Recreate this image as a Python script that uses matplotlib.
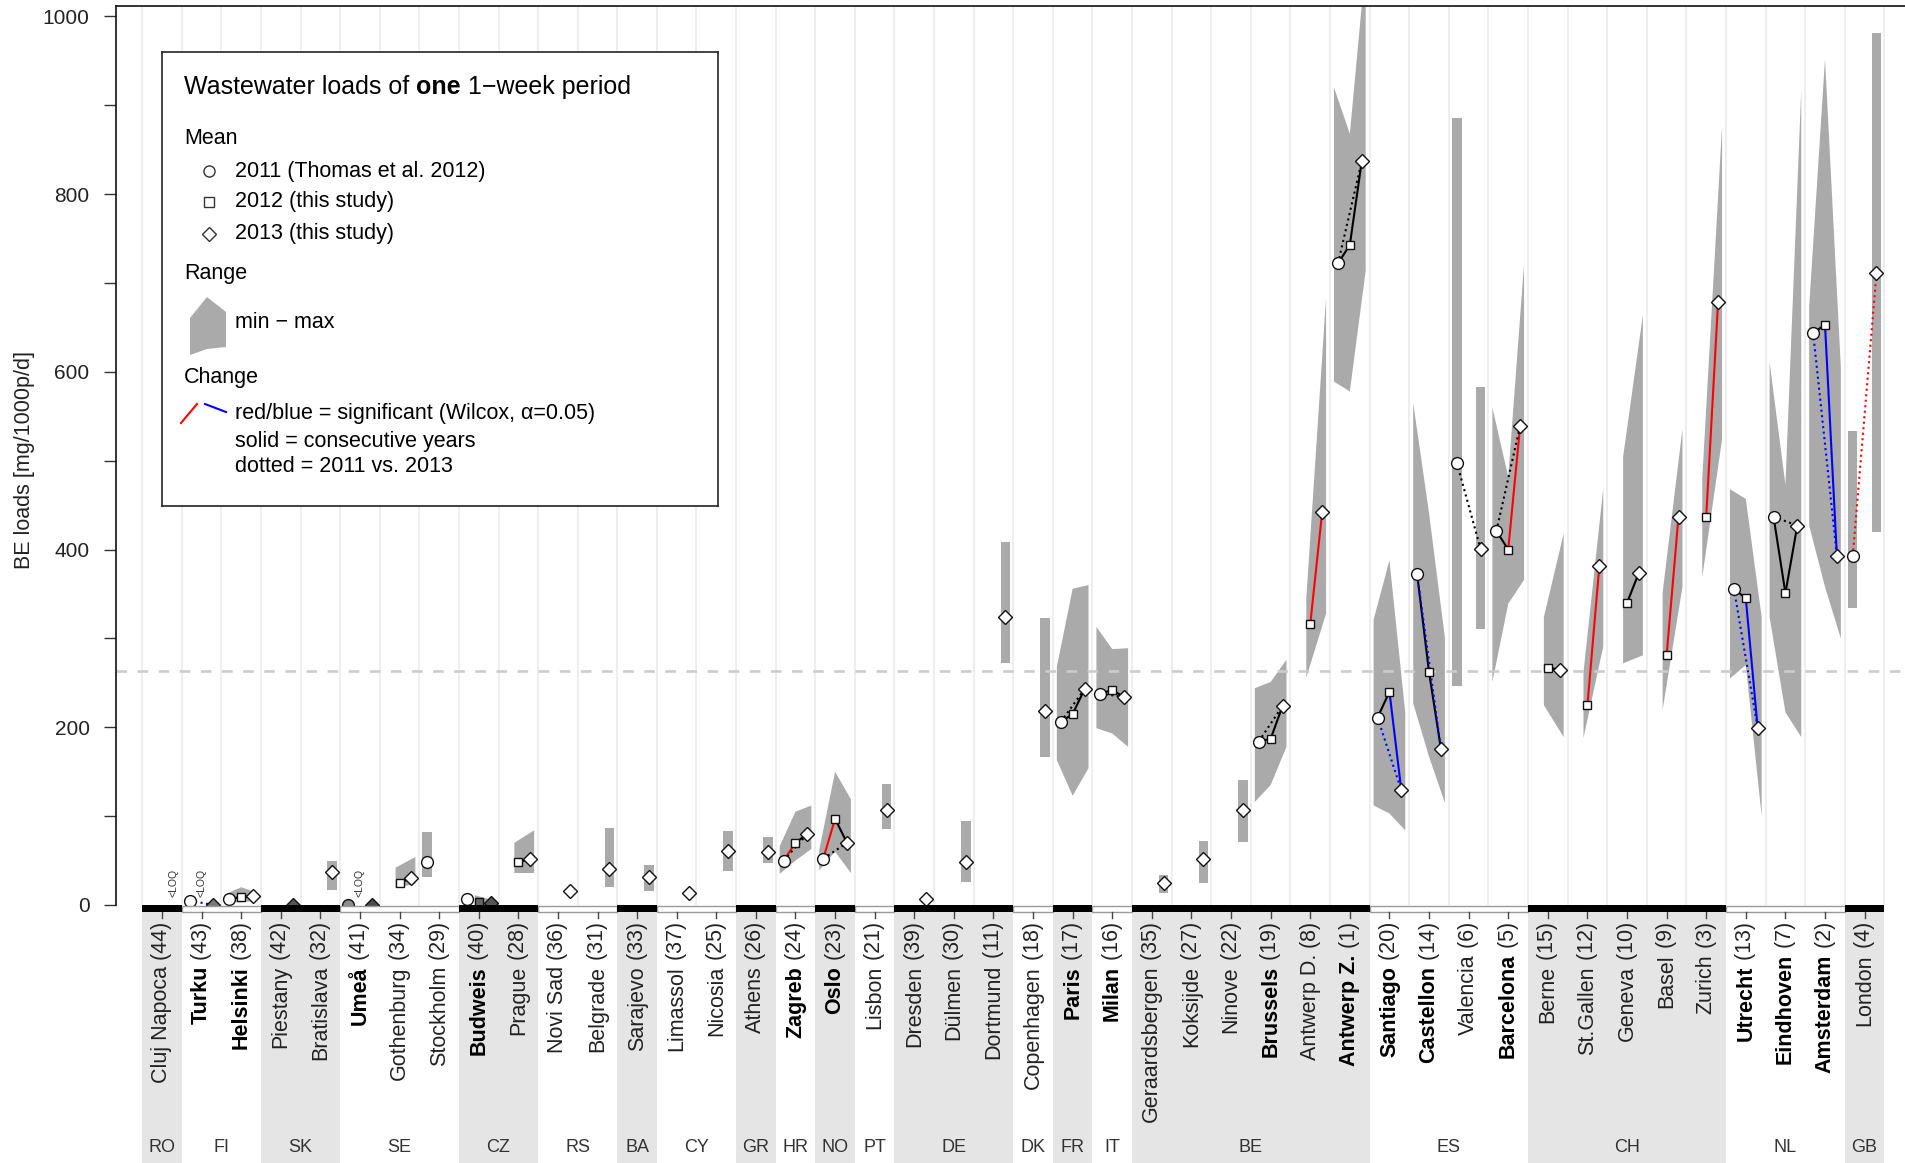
import numpy as np
import matplotlib
matplotlib.use('Agg')
import matplotlib.pyplot as plt
from matplotlib.patches import Rectangle, Polygon

plt.rcParams['font.family'] = ['Liberation Sans', 'DejaVu Sans']

nan = np.nan

# ---- data ----
cities = ['Cluj Napoca', 'Turku', 'Helsinki', 'Piestany', 'Bratislava', 'Umeå', 'Gothenburg',
          'Stockholm', 'Budweis', 'Prague', 'Novi Sad', 'Belgrade', 'Sarajevo', 'Limassol',
          'Nicosia', 'Athens', 'Zagreb', 'Oslo', 'Lisbon', 'Dresden', 'Dülmen', 'Dortmund',
          'Copenhagen', 'Paris', 'Milan', 'Geraardsbergen', 'Koksijde', 'Ninove', 'Brussels',
          'Antwerp D.', 'Antwerp Z.', 'Santiago', 'Castellon', 'Valencia', 'Barcelona', 'Berne',
          'St.Gallen', 'Geneva', 'Basel', 'Zurich', 'Utrecht', 'Eindhoven', 'Amsterdam', 'London']
ranks = [44, 43, 38, 42, 32, 41, 34, 29, 40, 28, 36, 31, 33, 37, 25, 26, 24, 23, 21, 39, 30, 11,
         18, 17, 16, 35, 27, 22, 19, 8, 1, 20, 14, 6, 5, 15, 12, 10, 9, 3, 13, 7, 2, 4]
countries = ['RO', 'FI', 'FI', 'SK', 'SK', 'SE', 'SE', 'SE', 'CZ', 'CZ', 'RS', 'RS', 'BA', 'CY',
             'CY', 'GR', 'HR', 'NO', 'PT', 'DE', 'DE', 'DE', 'DK', 'FR', 'IT', 'BE', 'BE', 'BE',
             'BE', 'BE', 'BE', 'ES', 'ES', 'ES', 'ES', 'CH', 'CH', 'CH', 'CH', 'CH', 'NL', 'NL',
             'NL', 'GB']
bold_cities = ['Turku', 'Helsinki', 'Umeå', 'Budweis', 'Zagreb', 'Oslo', 'Paris', 'Milan',
               'Brussels', 'Antwerp Z.', 'Santiago', 'Castellon', 'Barcelona', 'Utrecht',
               'Eindhoven', 'Amsterdam']

mean_2011 = [nan, 5, 7, nan, nan, 0, nan, 48, 7, nan, nan, nan, nan, nan, nan, nan, 50, 52, nan,
             nan, nan, nan, nan, 206, 238, nan, nan, nan, 184, nan, 722, 211, 372, 498, 421, nan,
             nan, nan, nan, nan, 356, 437, 644, 393]
mean_2012 = [nan, nan, 9, nan, nan, nan, 25, nan, 3, 48, nan, nan, nan, nan, nan, nan, 70, 97, nan,
             nan, nan, nan, nan, 215, 242, nan, nan, nan, 187, 316, 743, 240, 262, nan, 400, 267,
             225, 340, 281, 437, 345, 351, 653, nan]
mean_2013 = [nan, 0, 10, 0, 37, 0, 30, nan, 2, 52, 16, 41, 31, 14, 61, 60, 80, 70, 107, 7, 48,
             324, 218, 243, 234, 25, 52, 107, 224, 442, 837, 129, 176, 401, 539, 265, 381, 374,
             437, 679, 199, 427, 393, 711]

min_2011 = [nan, nan, 3, nan, nan, nan, nan, 31, nan, nan, nan, nan, nan, nan, nan, nan, 35, 39,
            nan, nan, nan, nan, nan, 163, 199, nan, nan, nan, 116, nan, 589, 112, 227, 247, 251,
            nan, nan, nan, nan, nan, 255, 324, 427, 334]
max_2011 = [nan, nan, 12, nan, nan, nan, nan, 82, nan, nan, nan, nan, nan, nan, nan, nan, 66, 62,
            nan, nan, nan, nan, nan, 268, 313, nan, nan, nan, 244, nan, 920, 321, 565, 886, 560,
            nan, nan, nan, nan, nan, 468, 611, 674, 534]
min_2012 = [nan, nan, 3, nan, nan, nan, 19, nan, 0, 36, nan, nan, nan, nan, nan, nan, 50, 60, nan,
            nan, nan, nan, nan, 123, 193, nan, nan, nan, 135, 256, 578, 103, 167, nan, 339, 225,
            188, 272, 220, 369, 270, 217, 358, nan]
max_2012 = [nan, nan, 20, nan, nan, nan, 42, nan, 11, 70, nan, nan, nan, nan, nan, nan, 105, 150,
            nan, nan, nan, nan, nan, 356, 288, nan, nan, nan, 251, 345, 868, 388, 441, nan, 482,
            324, 262, 504, 352, 480, 457, 473, 952, nan]
min_2013 = [nan, nan, 5, nan, 17, nan, 24, nan, 0, 36, nan, 20, 16, nan, 38, 47, 63, 36, 85, nan,
            26, 272, 167, 154, 178, 14, 25, 71, 178, 328, 714, 84, 115, 311, 366, 189, 291, 281,
            358, 524, 100, 189, 300, 420]
max_2013 = [nan, nan, 14, nan, 50, nan, 54, nan, 5, 84, nan, 87, 45, nan, 83, 76, 112, 119, 136,
            nan, 94, 408, 323, 360, 289, 34, 72, 141, 276, 684, 1060, 216, 301, 583, 722, 418, 469,
            664, 536, 877, 324, 918, 605, 981]

# change lines (colour = significance)
solid_1112 = {'Zagreb': 'red', 'Oslo': 'red', 'Helsinki': 'k', 'Paris': 'k', 'Milan': 'k',
              'Brussels': 'k', 'Antwerp Z.': 'k', 'Santiago': 'k', 'Castellon': 'k',
              'Barcelona': 'k', 'Utrecht': 'k', 'Eindhoven': 'k', 'Amsterdam': 'k'}
solid_1213 = {'Helsinki': 'k', 'Gothenburg': 'k', 'Prague': 'k', 'Zagreb': 'k', 'Oslo': 'k',
              'Paris': 'k', 'Milan': 'k', 'Brussels': 'k', 'Antwerp D.': 'red', 'Antwerp Z.': 'k',
              'Santiago': 'blue', 'Castellon': 'k', 'Barcelona': 'red', 'Berne': 'k',
              'St.Gallen': 'red', 'Geneva': 'k', 'Basel': 'red', 'Zurich': 'red',
              'Utrecht': 'blue', 'Eindhoven': 'k', 'Amsterdam': 'blue'}
dotted_1113 = {'Turku': 'blue', 'Helsinki': 'k', 'Zagreb': 'k', 'Oslo': 'k', 'Paris': 'k',
               'Milan': 'k', 'Brussels': 'k', 'Antwerp Z.': 'k', 'Santiago': 'blue',
               'Castellon': 'blue', 'Valencia': 'k', 'Barcelona': 'k', 'Utrecht': 'blue',
               'Eindhoven': 'k', 'Amsterdam': 'blue', 'London': 'red'}

# means affected by <LOQ samples (grey filled)
dark_fill = {('Turku', 2013): '#7a7a7a', ('Piestany', 2013): '#555555', ('Umeå', 2011): '#8c8c8c',
             ('Umeå', 2013): '#4d4d4d', ('Budweis', 2012): '#666666', ('Budweis', 2013): '#555555'}
loq_labels = [('Cluj Napoca', 2013), ('Turku', 2012), ('Umeå', 2012)]
reference_level = 263

years = [2011, 2012, 2013]
means = {2011: mean_2011, 2012: mean_2012, 2013: mean_2013}
mins = {2011: min_2011, 2012: min_2012, 2013: min_2013}
maxs = {2011: max_2011, 2012: max_2012, 2013: max_2013}
offset = {2011: -0.3, 2012: 0.0, 2013: 0.3}
markers = {2011: ('o', 8.5), 2012: ('s', 6.3), 2013: ('D', 6.8)}

W, H = 1905, 1163
fig = plt.figure(figsize=(W / 100, H / 100), dpi=100)
ax = fig.add_axes([116 / W, 1 - 905 / H, 1 - 116 / W, (905 - 6) / H])
ax.set_xlim(-1.16, 44.02)
ax.set_ylim(0, 1011.8)

n = len(cities)
# vertical separators
for b in np.arange(-0.5, n, 1.0):
    ax.axvline(b, color='#ebebeb', lw=1.2, zorder=0)

# range polygons / bars
for i in range(n):
    have = [y for y in years if not np.isnan(mins[y][i])]
    runs = []
    for y in have:
        if runs and y - runs[-1][-1] == 1:
            runs[-1].append(y)
        else:
            runs.append([y])
    for run in runs:
        if len(run) == 1:
            y = run[0]
            x0 = i + offset[y]
            ax.add_patch(Rectangle((x0 - 0.12, mins[y][i]), 0.24, maxs[y][i] - mins[y][i],
                                   facecolor='#aaaaaa', edgecolor='none', zorder=1))
        else:
            xs = [i + offset[y] for y in run]
            xs[0] -= 0.1
            xs[-1] += 0.1
            top = [(x, maxs[y][i]) for x, y in zip(xs, run)]
            bot = [(x, mins[y][i]) for x, y in zip(xs, run)][::-1]
            ax.add_patch(Polygon(top + bot, closed=True, facecolor='#aaaaaa',
                                 edgecolor='none', zorder=1))

ax.axhline(reference_level, color='#cccccc', lw=1.9, dashes=(4, 4), zorder=1.5)

# change lines
for i, c in enumerate(cities):
    for table, ya, yb, ls in ((solid_1112, 2011, 2012, '-'), (solid_1213, 2012, 2013, '-'),
                              (dotted_1113, 2011, 2013, ':')):
        if c in table:
            ax.plot([i + offset[ya], i + offset[yb]], [means[ya][i], means[yb][i]],
                    color=table[c], lw=1.5, ls=ls, zorder=3)

# means
for y in years:
    mk, ms = markers[y]
    for i, c in enumerate(cities):
        v = means[y][i]
        if np.isnan(v):
            continue
        fc = dark_fill.get((c, y), 'white')
        ax.plot(i + offset[y], v, marker=mk, ms=ms, mfc=fc, mec='#111111', mew=1.0,
                ls='none', zorder=4)

for c, y in loq_labels:
    i = cities.index(c)
    ax.text(i + offset[y], 9, '<LOQ', rotation=90, ha='center', va='bottom', fontsize=7.5,
            color='#333333', zorder=5)

ax.set_xticks([])
ax.set_yticks(np.arange(0, 1001, 100))
ax.set_yticklabels([str(v) if v % 200 == 0 else '' for v in range(0, 1001, 100)])
ax.tick_params(axis='y', length=9, width=1, color='#333333', labelsize=15, pad=10,
               labelcolor='#222222')
for s in ('right', 'bottom'):
    ax.spines[s].set_visible(False)
for s in ('left', 'top'):
    ax.spines[s].set_linewidth(1.2)
    ax.spines[s].set_color('#111111')
fig.text(25 / W, 1 - 460 / H, 'BE loads [mg/1000p/d]', rotation=90, ha='center', va='center',
         fontsize=15.5, color='#222222')

# ---- city / country band below the plot ----
axl = fig.add_axes([116 / W, 0, 1 - 116 / W, 1 - 905 / H])
axl.set_xlim(ax.get_xlim())
axl.set_ylim(258, 0)
axl.axis('off')

groups = []
for i, cc in enumerate(countries):
    if groups and groups[-1][0] == cc:
        groups[-1][2] = i
    else:
        groups.append([cc, i, i])
for k, (cc, a, b) in enumerate(groups):
    shaded = k % 2 == 0
    if shaded:
        axl.add_patch(Rectangle((a - 0.5, 7), b - a + 1, 252, facecolor='#e5e5e5',
                                edgecolor='none', zorder=0))
        axl.add_patch(Rectangle((a - 0.5, 0), b - a + 1, 7, facecolor='black',
                                edgecolor='none', zorder=2))
    else:
        axl.add_patch(Rectangle((a - 0.5, 0.5), b - a + 1, 6.5, facecolor='white',
                                edgecolor='#999999', lw=1, zorder=1))
    axl.text((a + b) / 2, 243, cc, ha='center', va='center', fontsize=13, color='#333333')

for i, c in enumerate(cities):
    axl.plot([i, i], [7, 13], color='#444444', lw=1, zorder=3)
    is_bold = c in bold_cities
    rank_t = axl.text(i, 17, f' ({ranks[i]})', rotation=90, ha='center', va='top',
                      fontsize=15.5, color='#222222')
    axl.annotate(c, xy=(0.5, 0), xycoords=rank_t, rotation=90, ha='center', va='top',
                 fontsize=15.5, color='black' if is_bold else '#222222',
                 fontweight='bold' if is_bold else 'normal')

# ---- legend box (pixel coordinates) ----
lg = fig.add_axes([162 / W, 1 - 506 / H, (718 - 162) / W, (506 - 52) / H])
lg.set_xlim(162, 718)
lg.set_ylim(506, 52)
lg.set_xticks([])
lg.set_yticks([])
lg.set_facecolor('white')
for s in lg.spines.values():
    s.set_color('#222222')
    s.set_linewidth(1.2)

t1 = lg.text(184, 87, 'Wastewater loads of ', fontsize=18, va='center', ha='left')
t2 = lg.annotate('one', xy=(1, 0), xycoords=t1, va='bottom', ha='left', fontsize=18,
                 fontweight='bold')
lg.annotate(' 1\u2212week period', xy=(1, 0), xycoords=t2, va='bottom', ha='left', fontsize=18)

lg.text(184, 138, 'Mean', fontsize=15.5, va='center')
for y, yy, label in ((2011, 171, '2011 (Thomas et al. 2012)'), (2012, 202, '2012 (this study)'),
                     (2013, 234, '2013 (this study)')):
    mk, ms = markers[y]
    lg.plot(209, yy, marker=mk, ms={'o': 8, 's': 7, 'D': 7}[mk], mfc='white',
            mec='#333333', mew=1.0)
    lg.text(235, yy, label, fontsize=15.5, va='center')
lg.text(184, 274, 'Range', fontsize=15.5, va='center')
lg.add_patch(Polygon([(190, 355), (190, 318), (207, 297), (226, 312), (226, 347), (207, 349)],
                     closed=True, facecolor='#aaaaaa', edgecolor='none'))
lg.text(235, 322, 'min \u2212 max', fontsize=15.5, va='center')
lg.text(184, 377, 'Change', fontsize=15.5, va='center')
lg.plot([181, 197], [423, 404], color='red', lw=1.5)
lg.plot([205, 226], [404, 412], color='blue', lw=1.5)
lg.text(235, 414, 'red/blue = significant (Wilcox, \u03b1=0.05)', fontsize=15.5, va='center')
lg.text(235, 441, 'solid = consecutive years', fontsize=15.5, va='center')
lg.text(235, 466, 'dotted = 2011 vs. 2013', fontsize=15.5, va='center')

fig.savefig('out.png', dpi=100)
